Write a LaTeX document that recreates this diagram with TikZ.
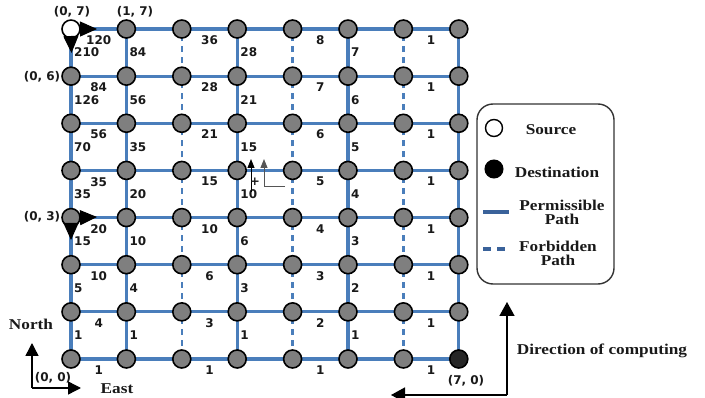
\documentclass[tikz,border=0pt]{standalone}
\usepackage{fontspec}
\usetikzlibrary{arrows.meta}
\newfontfamily\lblfont{DejaVu Sans}
\newfontfamily\legfont{Liberation Serif}[FakeStretch=1.15]
\definecolor{gridblue}{HTML}{4A7EBB}
\definecolor{legblue}{HTML}{3A629A}
\definecolor{nodegray}{HTML}{7F7F7F}
\definecolor{destgray}{HTML}{262626}
\definecolor{axgray}{HTML}{555555}
\tikzset{
  gnode/.style={circle, draw=black, line width=1.6pt, fill=nodegray, minimum size=18pt, inner sep=0pt},
  n07/.style={fill=white},
  n70/.style={fill=destgray},
  gridline/.style={draw=gridblue, line width=3.2pt},
  gridfbd/.style={draw=gridblue, line width=2.3pt, dash pattern=on 6pt off 5pt},
  hlab/.style={font=\lblfont\bfseries\fontsize{12}{12}\selectfont, inner sep=0pt, below=6.5pt, text=black!90},
  vlab/.style={font=\lblfont\bfseries\fontsize{12}{12}\selectfont, inner sep=0pt, right=3pt, text=black!90},
  clab/.style={font=\lblfont\bfseries\fontsize{12}{12}\selectfont, inner sep=0pt, text=black!90},
  legtxt/.style={font=\legfont\bfseries\fontsize{15}{16}\selectfont, inner sep=0pt, align=center, text=black!90},
  bigtri/.style={line width=1pt, draw=black, -{Triangle[length=17pt,width=15pt]}},
  smalltri/.style={line width=1pt, -{Triangle[length=9pt,width=7pt]}},
  dirarrow/.style={line width=1.6pt, draw=black, -{Triangle[length=14pt,width=15pt]}},
}
\begin{document}
\begin{tikzpicture}[x=1pt,y=-1pt]
\useasboundingbox (0,0) rectangle (705,398);

% grid points
\foreach \i in {0,...,7}{
  \foreach \j in {0,...,7}{
    \coordinate (p-\i-\j) at ({71+55.4*\i},{359-47.14*\j});
  }
}

% horizontal edges
\foreach \j in {0,...,7}{
  \foreach \i in {0,...,6}{
    \pgfmathtruncatemacro{\k}{\i+1}
    \draw[gridline] (p-\i-\j) -- (p-\k-\j);
  }
}
% vertical solid edges
\foreach \i in {0,1,3,5,7}{
  \foreach \j in {0,...,6}{
    \pgfmathtruncatemacro{\k}{\j+1}
    \draw[gridline] (p-\i-\j) -- (p-\i-\k);
  }
}
% vertical forbidden edges
\foreach \i in {2,4,6}{
  \foreach \j in {0,...,6}{
    \pgfmathtruncatemacro{\k}{\j+1}
    \draw[gridfbd] ([yshift=-9pt]p-\i-\j) -- ([yshift=9pt]p-\i-\k);
  }
}

% grid nodes
\foreach \i in {0,...,7}{
  \foreach \j in {0,...,7}{
    \node[gnode, n\i\j/.try] (n-\i-\j) at (p-\i-\j) {};
  }
}

% horizontal labels
\foreach \j/\a/\b/\c/\d in {7/120/36/8/1, 6/84/28/7/1, 5/56/21/6/1, 4/35/15/5/1, 3/20/10/4/1, 2/10/6/3/1, 1/4/3/2/1, 0/1/1/1/1} {
  \path (n-0-\j) -- node[hlab] {\a} (n-1-\j);
  \path (n-2-\j) -- node[hlab] {\b} (n-3-\j);
  \path (n-4-\j) -- node[hlab] {\c} (n-5-\j);
  \path (n-6-\j) -- node[hlab] {\d} (n-7-\j);
}
% vertical labels
\foreach \j/\a/\b/\c/\d in {6/210/84/28/7, 5/126/56/21/6, 4/70/35/15/5, 3/35/20/10/4, 2/15/10/6/3, 1/5/4/3/2, 0/1/1/1/1} {
  \pgfmathtruncatemacro{\k}{\j+1}
  \path (n-0-\j) -- node[vlab] {\a} (n-0-\k);
  \path (n-1-\j) -- node[vlab] {\b} (n-1-\k);
  \path (n-3-\j) -- node[vlab] {\c} (n-3-\k);
  \path (n-5-\j) -- node[vlab] {\d} (n-5-\k);
}

% coordinate labels
\node[clab] (c07) at (72,12) {(0, 7)};
\node[clab] (c17) at (135,12) {(1, 7)};
\node[clab] (c06) at (42,77) {(0, 6)};
\node[clab] (c03) at (42,217) {(0, 3)};
\node[clab] (c00) at (53,378) {(0, 0)};
\node[clab] (c70) at (466,381) {(7, 0)};

% big arrows at (0,7) and (0,3)
\coordinate (a7r) at (97,29);
\coordinate (a7d) at (71.5,53);
\coordinate (a3r) at (97,217);
\coordinate (a3d) at (71,240);
\draw[bigtri] (n-0-7.east) -- (a7r);
\draw[bigtri] (n-0-7.south) -- (a7d);
\draw[bigtri] (n-0-3.east) -- (a3r);
\draw[bigtri] (n-0-3.south) -- (a3d);

% small axes near (3,4)
\draw[smalltri, draw=black] (251,192) -- (251,159);
\draw[smalltri, draw=axgray] (285,187) -- (264,187) -- (264,159);
\node[clab] (plus) at (255,182) {+};

% North / East
\node[legtxt] (north) at (31,324) {North};
\node[legtxt] (east) at (117,389) {East};
\coordinate (ne0) at (32,388);
\coordinate (ntip) at (32,343);
\coordinate (etip) at (81,388);
\draw[dirarrow, line width=1.4pt, -{Triangle[length=13pt,width=13pt]}] (ne0) -- (ntip);
\draw[dirarrow, line width=1.4pt, -{Triangle[length=13pt,width=13pt]}] (ne0) -- (etip);

% direction of computing
\coordinate (dc0) at (507,395);
\coordinate (dcup) at (507,302);
\coordinate (dcleft) at (391,395);
\draw[dirarrow] (dc0) -- (dcup);
\draw[dirarrow] (dc0) -- (dcleft);
\node[legtxt] (dirtxt) at (602,351) {Direction of computing};

% legend
\draw[rounded corners=16pt, line width=1.4pt, draw=black!80] (477,104) rectangle (614,284);
\node[circle, draw=black, line width=1.4pt, fill=white, minimum size=17pt, inner sep=0pt] (lsrc) at (494,128) {};
\node[legtxt] (lsrct) at (551,130) {Source};
\node[circle, draw=black, line width=1pt, fill=black, minimum size=18pt, inner sep=0pt] (ldst) at (494,169) {};
\node[legtxt] (ldstt) at (557,172) {Destination};
\coordinate (lp1) at (483,212);
\coordinate (lp2) at (509,212);
\draw[draw=legblue, line width=3.6pt] (lp1) -- (lp2);
\node[legtxt] (lpt) at (562,212.5) {Permissible\\[-2pt]Path};
\coordinate (lf1) at (483,249);
\coordinate (lf2) at (509,249);
\draw[draw=legblue, line width=3.2pt, dash pattern=on 8pt off 6pt] (lf1) -- (lf2);
\node[legtxt] (lft) at (558,253.5) {Forbidden\\[-2pt]Path};
\end{tikzpicture}
\end{document}
